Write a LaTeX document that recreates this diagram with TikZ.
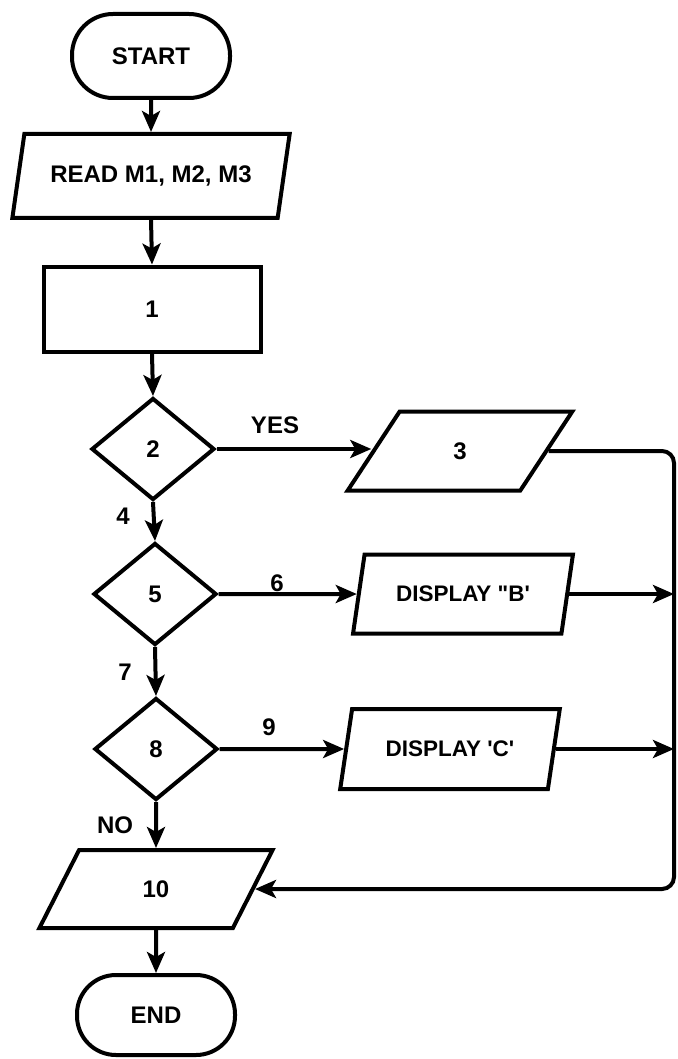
\documentclass[tikz,border=0pt]{standalone}
\usepackage{fontspec}
\setmainfont{Liberation Sans}
\usetikzlibrary{shapes.geometric,arrows.meta}
\begin{document}
\begin{tikzpicture}[x=1pt,y=-1pt,
  every node/.style={font=\bfseries\fontsize{24}{28}\selectfont},
  arr/.style={line width=4pt,-{Stealth[length=21pt,width=18pt,inset=5pt]}},
  term/.style={draw,line width=4pt,rectangle,rounded corners=41pt,minimum width=158pt,minimum height=84pt},
  proc/.style={draw,line width=4pt,rectangle,minimum width=217pt,minimum height=85pt},
  io/.style={draw,line width=4pt,trapezium,trapezium left angle=70,trapezium right angle=110,trapezium stretches=true},
  dec/.style={draw,line width=4pt,diamond,minimum width=123pt,minimum height=102pt,inner sep=0pt},
  small/.style={font=\bfseries\fontsize{22.5}{26}\selectfont}
]
\useasboundingbox (0,0) rectangle (677,1059);

% nodes
\node[term] (start) at (151,56) {START};
\node[io,minimum width=278pt,minimum height=84pt] (read) at (151,176) {READ M1, M2, M3};
\node[proc] (p1) at (152,309) {1};
\node[dec] (d2) at (153,449) {2};
\node[io,minimum width=225pt,minimum height=79pt] (o3) at (460,451) {3};
\node[dec] (d5) at (155,594) {5};
\node[io,small,minimum width=220pt,minimum height=79pt] (oB) at (463,594) {DISPLAY \textquotedbl B\textquotesingle};
\node[dec] (d8) at (156,749) {8};
\node[io,small,minimum width=220pt,minimum height=80pt] (oC) at (450,749) {DISPLAY \textquotesingle C\textquotesingle};
\node[io,minimum width=234pt,minimum height=78pt] (o10) at (156,889) {10};
\node[term,minimum height=80pt,rounded corners=39pt] (end) at (156,1015) {END};

% labels
\node (lyes) at (275,425) {YES};
\node (l4) at (123,516) {4};
\node (l6) at (277,583) {6};
\node (l7) at (125,672) {7};
\node (l9) at (269,727) {9};
\node (lno) at (115,825) {NO};

% connectors
\draw[arr] (start.south) -- (read.north);
\draw[arr] (read.south) -- (p1.north);
\draw[arr] (p1.south) -- (d2.north);
\draw[arr] (d2.south) -- (d5.north);
\draw[arr] (d5.south) -- (d8.north);
\draw[arr] (d8.south) -- (o10.north);
\draw[arr] (o10.south) -- (end.north);
\draw[arr] (d2.east) -- (d2.east -| o3.west);
\draw[arr] (d5) -- (oB);
\draw[arr] (d8) -- (oC);

\coordinate (rt) at (674,451);
\coordinate (rb) at (674,889);
\draw[arr,rounded corners=12pt] (o3.east) -- (rt) -- (rb) -- (o10.east);
\draw[arr] (oB.east) -- (oB.east -| rt);
\draw[arr] (oC.east) -- (oC.east -| rt);
\end{tikzpicture}
\end{document}
